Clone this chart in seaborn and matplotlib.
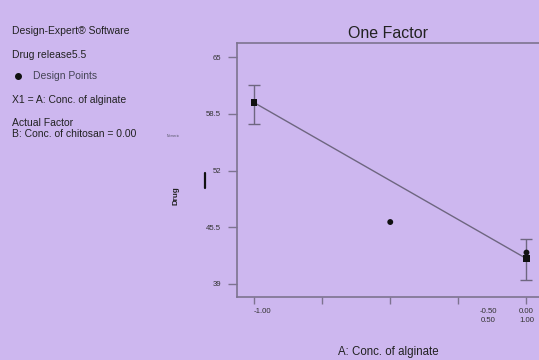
import matplotlib
matplotlib.use("Agg")
import matplotlib.pyplot as plt
import seaborn as sns
import pandas as pd
from matplotlib.lines import Line2D

# ---- data ----
design_x = [-1.0, -0.5, 0.0]
design_y = [59.8, 46.1, 42.6]
pred_x = [-1.0, 0.0]
pred_y = [59.8, 41.9]
err_low = [57.3, 39.5]
err_high = [61.8, 44.1]
yticks = [39, 45.5, 52, 58.5, 65]
ytick_labels = ["39", "45.5", "52", "58.5", "65"]
xticks = [-1.0, -0.75, -0.5, -0.25, 0.0]

bg = "#CDB7EF"
spine_c = "#7d7390"
line_c = "#6e6680"
txt_c = "#222222"

sns.set_theme(style="white")
plt.rcParams["font.family"] = ["Liberation Sans", "DejaVu Sans"]

fig = plt.figure(figsize=(5.39, 3.60), dpi=100, facecolor=bg)
ax = fig.add_axes([237/539, 1-297/360, (543.5-237)/539, (297-42.7)/360])
ax.set_facecolor(bg)

pred_df = pd.DataFrame({"x": pred_x, "y": pred_y})
des_df = pd.DataFrame({"x": design_x, "y": design_y})

sns.lineplot(data=pred_df, x="x", y="y", ax=ax, color=line_c, lw=1.0)
for xv, lo, hi in zip(pred_x, err_low, err_high):
    ax.errorbar([xv], [(lo+hi)/2], yerr=[[(hi-lo)/2], [(hi-lo)/2]], fmt="none",
                ecolor=line_c, elinewidth=1.0, capsize=4, capthick=1.0)
sns.scatterplot(data=pred_df, x="x", y="y", ax=ax, marker="s", color="#111111", s=22, edgecolor="none", zorder=5)
sns.scatterplot(data=des_df, x="x", y="y", ax=ax, marker="o", color="#111111", s=18, edgecolor="none", zorder=6)

ax.set_xlim(-1.0625, 0.0625)
ax.set_ylim(37.5, 66.67)
ax.set_yticks(yticks)
ax.set_yticklabels(ytick_labels)
ax.set_xticks(xticks)
ax.set_xticklabels([""] * len(xticks))
ax.tick_params(axis="y", direction="out", length=6.5, width=1, color=spine_c, labelsize=5.6, labelcolor="#333333", pad=5, left=True)
ax.tick_params(axis="x", direction="out", length=5, width=1, color=spine_c, bottom=True)
for s in ax.spines.values():
    s.set_color(spine_c)
    s.set_linewidth(1.2)
ax.set_xlabel("")
ax.set_ylabel("")

# x tick labels as Design-Expert style
tr = ax.get_xaxis_transform()
ax.text(-1.0, -0.045, "-1.00", transform=tr, fontsize=5.6, ha="left", va="top", color="#333333")
ax.text(-0.14, -0.045, "-0.50\n0.50", transform=tr, fontsize=5.6, ha="center", va="top", color="#333333", linespacing=1.25)
ax.text(0.0, -0.045, "0.00\n1.00", transform=tr, fontsize=5.6, ha="center", va="top", color="#333333", linespacing=1.25)

# titles and labels
fig.text(388/539, 1-34/360, "One Factor", fontsize=11.5, ha="center", va="center", color=txt_c)
fig.text(388/539, 1-352/360, "A: Conc. of alginate", fontsize=8.3, ha="center", va="center", color=txt_c)
fig.text(176/539, 1-196/360, "Drug", fontsize=5.8, rotation=90, ha="center", va="center", color=txt_c, fontweight="bold")

# left info block
fs = 7.5
fig.text(12/539, 1-31/360, "Design-Expert® Software", fontsize=fs, ha="left", va="center", color=txt_c)
fig.text(12/539, 1-55/360, "Drug release5.5", fontsize=fs, ha="left", va="center", color=txt_c)
fig.add_artist(Line2D([18/539], [1-76/360], marker="o", color="#111111", markersize=4, transform=fig.transFigure))
fig.text(33/539, 1-76/360, "Design Points", fontsize=fs, ha="left", va="center", color="#444455")
fig.text(12/539, 1-100/360, "X1 = A: Conc. of alginate", fontsize=fs, ha="left", va="center", color=txt_c)
fig.text(12/539, 1-123/360, "Actual Factor", fontsize=fs, ha="left", va="center", color=txt_c)
fig.text(12/539, 1-134/360, "B: Conc. of chitosan = 0.00", fontsize=fs, ha="left", va="center", color=txt_c)
fig.text(167/539, 1-136/360, "Numeric", fontsize=2.5, ha="left", va="center", color="#555566")
fig.add_artist(Line2D([204.5/539, 204.5/539], [1-173/360, 1-188/360], color="#111111", lw=1.6, transform=fig.transFigure))

fig.savefig("out.png", dpi=100, facecolor=bg)
